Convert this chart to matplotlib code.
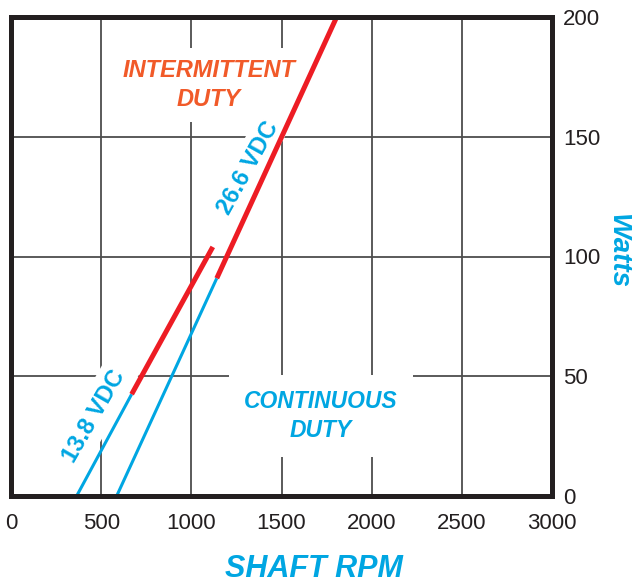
import matplotlib
matplotlib.use("Agg")
import matplotlib.pyplot as plt
from matplotlib import font_manager

# 13.8 VDC curve: continuous (blue) then intermittent (red)
low_blue_rpm = [364, 669]
low_blue_watts = [0, 42.5]
low_red_rpm = [669, 1119]
low_red_watts = [42.5, 104]

# 26.6 VDC curve
high_blue_rpm = [586, 1141]
high_blue_watts = [0, 90.9]
high_red_rpm = [1141, 1806]
high_red_watts = [90.9, 200]

x_ticks = [0, 500, 1000, 1500, 2000, 2500, 3000]
y_ticks = [0, 50, 100, 150, 200]

BLUE = "#00A6E2"
RED = "#ED1C24"
ORANGE = "#F15A29"
INK = "#231F20"

plt.rcParams["font.family"] = ["Liberation Sans", "DejaVu Sans"]

# narrow face for the numbers if it is there
names = {f.name for f in font_manager.fontManager.ttflist}
if "Liberation Sans Narrow" in names:
    tick_family, tick_size = "Liberation Sans Narrow", 17
else:
    tick_family, tick_size = "Liberation Sans", 16

fig = plt.figure(figsize=(6.32, 5.85), dpi=100)
ax = fig.add_axes([11 / 632, 89 / 585, 541 / 632, 479 / 585])

ax.set_xlim(0, 3000)
ax.set_ylim(0, 200)
ax.set_xticks(x_ticks)
ax.set_yticks(y_ticks)
ax.yaxis.tick_right()
ax.tick_params(length=0, labelsize=tick_size, colors=INK,
               labelfontfamily=tick_family)
ax.tick_params(axis="x", pad=12)
ax.tick_params(axis="y", pad=8)

ax.grid(True, color="#4D4D4D", linewidth=1.3, zorder=1)
ax.set_axisbelow(True)
for sp in ax.spines.values():
    sp.set_linewidth(3.6)
    sp.set_color(INK)
    sp.set_zorder(6)

ax.plot(low_blue_rpm, low_blue_watts, color=BLUE, lw=2.2, solid_capstyle="butt", zorder=5)
ax.plot(low_red_rpm, low_red_watts, color=RED, lw=3.6, solid_capstyle="butt", zorder=5)
ax.plot(high_blue_rpm, high_blue_watts, color=BLUE, lw=2.2, solid_capstyle="butt", zorder=5)
ax.plot(high_red_rpm, high_red_watts, color=RED, lw=3.6, solid_capstyle="butt", zorder=5)

white = dict(facecolor="white", edgecolor="none")

ax.text(1098, 171.6, "INTERMITTENT\nDUTY", color=ORANGE, fontsize=17,
        fontweight="bold", fontstyle="italic", ha="center", va="center",
        linespacing=1.3, bbox=dict(white, pad=8), zorder=3)
ax.text(1719, 33.4, "CONTINUOUS\nDUTY", color=BLUE, fontsize=16.5,
        fontweight="bold", fontstyle="italic", ha="center", va="center",
        linespacing=1.3, bbox=dict(white, pad=11), zorder=3)
ax.text(460, 33.4, "13.8 VDC", color=BLUE, fontsize=17, fontweight="bold",
        rotation=60, rotation_mode="anchor", ha="center", va="center",
        bbox=dict(white, pad=5), zorder=3)
ax.text(1314, 137, "26.6 VDC", color=BLUE, fontsize=17, fontweight="bold",
        rotation=61, rotation_mode="anchor", ha="center", va="center",
        bbox=dict(white, pad=4), zorder=3)

fig.text(314 / 632, 1 - 569 / 585, "SHAFT RPM", color=BLUE, fontsize=22,
         fontweight="bold", fontstyle="italic", ha="center", va="center")
fig.text(618 / 632, 1 - 252 / 585, "Watts", color=BLUE, fontsize=20,
         fontweight="bold", fontstyle="italic", rotation=-90,
         ha="center", va="center")

fig.savefig("out.png", dpi=100)
